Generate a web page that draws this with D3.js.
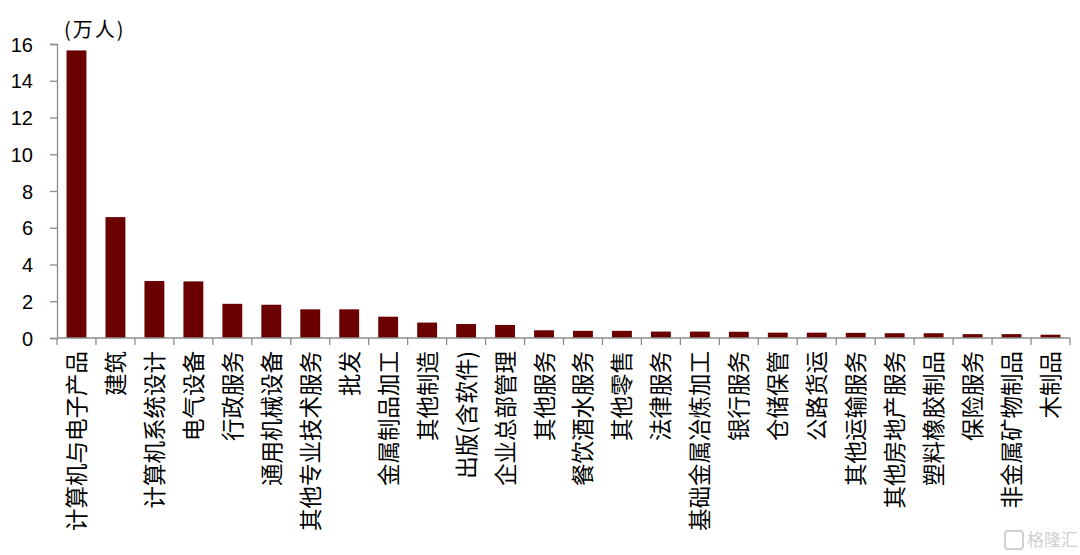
<!DOCTYPE html>
<html>
<head>
<meta charset="utf-8">
<title>行业分布</title>
<style>
  body { margin: 0; background: #fff; }
  svg { display: block; }
  .ytick text { font-family: "Liberation Sans", Arial, sans-serif; font-size: 20px; fill: #000; }
  .xlab { font-family: "Noto Sans CJK SC", sans-serif; font-size: 22.5px; fill: #000; }
  .unit { font-family: "Noto Sans CJK SC", sans-serif; font-size: 20px; letter-spacing: 2px; fill: #000; }
</style>
</head>
<body>
<script src="https://d3js.org/d3.v7.min.js"></script>
<script>
const categories = ['计算机与电子产品', '建筑', '计算机系统设计', '电气设备', '行政服务', '通用机械设备',
  '其他专业技术服务', '批发', '金属制品加工', '其他制造', '出版(含软件)', '企业总部管理', '其他服务',
  '餐饮酒水服务', '其他零售', '法律服务', '基础金属冶炼加工', '银行服务', '仓储保管', '公路货运',
  '其他运输服务', '其他房地产服务', '塑料橡胶制品', '保险服务', '非金属矿物制品', '木制品'];
const values = [15.65, 6.58, 3.1, 3.08, 1.86, 1.81, 1.56, 1.56, 1.16, 0.84, 0.76, 0.71, 0.42,
  0.39, 0.39, 0.35, 0.35, 0.34, 0.29, 0.29, 0.28, 0.26, 0.26, 0.21, 0.21, 0.18];
const yTicks = [0, 2, 4, 6, 8, 10, 12, 14, 16];
const unitLabel = '(万人)';

const W = 1080, H = 555;
const plotLeft = 57, plotRight = 1070, plotTop = 44, plotBottom = 338;
const axisColor = '#8c8c8c';

const svg = d3.select('body').append('svg')
  .attr('width', W)
  .attr('height', H);

const x = d3.scaleBand()
  .domain(categories)
  .range([plotLeft, plotRight])
  .paddingInner(0.49)
  .paddingOuter(0.245);

const y = d3.scaleLinear()
  .domain([0, 16])
  .range([plotBottom, plotTop]);

// bars
svg.append('g')
  .selectAll('rect')
  .data(values)
  .enter()
  .append('rect')
  .attr('x', (d, i) => x(categories[i]))
  .attr('y', d => y(d))
  .attr('width', x.bandwidth())
  .attr('height', d => y(0) - y(d))
  .attr('fill', '#6a0000');

// y axis
const yAxis = d3.axisLeft(y)
  .tickValues(yTicks)
  .tickSize(7)
  .tickPadding(17)
  .tickFormat(d3.format('d'));

const gy = svg.append('g')
  .attr('class', 'ytick')
  .attr('transform', `translate(${plotLeft},0)`)
  .call(yAxis);
gy.select('.domain').attr('stroke', axisColor).attr('stroke-width', 1.3);
gy.selectAll('.tick line').attr('stroke', axisColor).attr('stroke-width', 1.3);
gy.selectAll('.tick text').attr('dy', '0.36em');

// x axis line and boundary ticks
const step = x.step();
const bounds = d3.range(categories.length + 1).map(i => plotLeft + i * step);
const gx = svg.append('g');
gx.append('line')
  .attr('x1', plotLeft).attr('x2', plotRight)
  .attr('y1', y(0)).attr('y2', y(0))
  .attr('stroke', axisColor).attr('stroke-width', 1.3);
gx.selectAll('line.tk')
  .data(bounds)
  .enter()
  .append('line')
  .attr('class', 'tk')
  .attr('x1', d => d).attr('x2', d => d)
  .attr('y1', y(0)).attr('y2', y(0) + 7)
  .attr('stroke', axisColor).attr('stroke-width', 1.3);

// category labels, rotated
gx.selectAll('text')
  .data(categories)
  .enter()
  .append('text')
  .attr('class', 'xlab')
  .attr('text-anchor', 'end')
  .attr('transform', d => `translate(${x(d) + x.bandwidth() / 2 + 8.5},${y(0) + 13}) rotate(-90)`)
  .text(d => d);

// unit
svg.append('text')
  .attr('class', 'unit')
  .attr('x', 64)
  .attr('y', 37)
  .text(unitLabel);

// watermark
const wm = svg.append('g').attr('opacity', 0.55);
wm.append('rect')
  .attr('x', 1005).attr('y', 531)
  .attr('width', 18).attr('height', 18)
  .attr('rx', 3)
  .attr('fill', 'none')
  .attr('stroke', '#aaa')
  .attr('stroke-width', 2);
wm.append('text')
  .attr('x', 1027).attr('y', 546)
  .attr('font-family', 'Noto Sans CJK SC, sans-serif')
  .attr('font-size', 17)
  .attr('fill', '#aaa')
  .text('格隆汇');
</script>
</body>
</html>
